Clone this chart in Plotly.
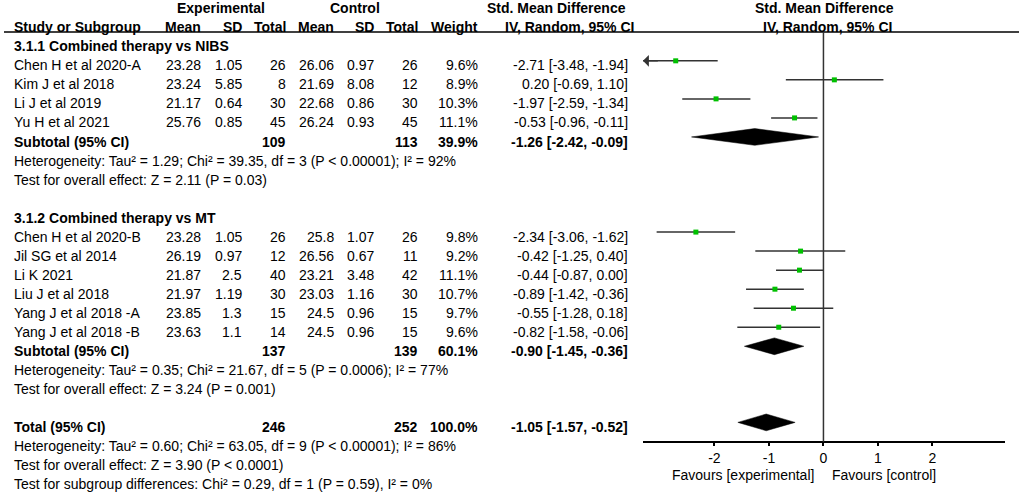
import plotly.graph_objects as go

# Study level data, subgroup 3.1.1 Combined therapy vs NIBS
studies_1 = ["Chen H et al 2020-A", "Kim J et al 2018", "Li J et al 2019", "Yu H et al 2021"]
exp_mean_1 = [23.28, 23.24, 21.17, 25.76]
exp_sd_1 = [1.05, 5.85, 0.64, 0.85]
exp_n_1 = [26, 8, 30, 45]
ctl_mean_1 = [26.06, 21.69, 22.68, 26.24]
ctl_sd_1 = [0.97, 8.08, 0.86, 0.93]
ctl_n_1 = [26, 12, 30, 45]
weight_1 = [9.6, 8.9, 10.3, 11.1]
smd_1 = [-2.71, 0.20, -1.97, -0.53]
lo_1 = [-3.48, -0.69, -2.59, -0.96]
hi_1 = [-1.94, 1.10, -1.34, -0.11]

# Subgroup 3.1.2 Combined therapy vs MT
studies_2 = ["Chen H et al 2020-B", "Jil SG et al 2014", "Li K 2021", "Liu J et al 2018",
             "Yang J et al 2018 -A", "Yang J et al 2018 -B"]
exp_mean_2 = [23.28, 26.19, 21.87, 21.97, 23.85, 23.63]
exp_sd_2 = [1.05, 0.97, 2.5, 1.19, 1.3, 1.1]
exp_n_2 = [26, 12, 40, 30, 15, 14]
ctl_mean_2 = [25.8, 26.56, 23.21, 23.03, 24.5, 24.5]
ctl_sd_2 = [1.07, 0.67, 3.48, 1.16, 0.96, 0.96]
ctl_n_2 = [26, 11, 42, 30, 15, 15]
weight_2 = [9.8, 9.2, 11.1, 10.7, 9.7, 9.6]
smd_2 = [-2.34, -0.42, -0.44, -0.89, -0.55, -0.82]
lo_2 = [-3.06, -1.25, -0.87, -1.42, -1.28, -1.58]
hi_2 = [-1.62, 0.40, 0.00, -0.36, 0.18, -0.06]

# Pooled estimates: subtotal 1, subtotal 2, total
pooled_labels = ["Subtotal (95% CI)", "Subtotal (95% CI)", "Total (95% CI)"]
pooled_exp_n = [109, 137, 246]
pooled_ctl_n = [113, 139, 252]
pooled_weight = [39.9, 60.1, 100.0]
pooled_smd = [-1.26, -0.90, -1.05]
pooled_lo = [-2.42, -1.45, -1.57]
pooled_hi = [-0.09, -0.36, -0.52]

group_titles = ["3.1.1 Combined therapy vs NIBS", "3.1.2 Combined therapy vs MT"]
het_text = [
    "Heterogeneity: Tau² = 1.29; Chi² = 39.35, df = 3 (P &lt; 0.00001); I² = 92%",
    "Heterogeneity: Tau² = 0.35; Chi² = 21.67, df = 5 (P = 0.0006); I² = 77%",
    "Heterogeneity: Tau² = 0.60; Chi² = 63.05, df = 9 (P &lt; 0.00001); I² = 86%",
]
effect_text = [
    "Test for overall effect: Z = 2.11 (P = 0.03)",
    "Test for overall effect: Z = 3.24 (P = 0.001)",
    "Test for overall effect: Z = 3.90 (P &lt; 0.0001)",
]
subgroup_text = "Test for subgroup differences: Chi² = 0.29, df = 1 (P = 0.59), I² = 0%"

x_ticks = [-2, -1, 0, 1, 2]
x_min, x_max = -3.31, 3.33

W, H = 1021, 492
FONT = "Liberation Sans, Arial, sans-serif"
FSIZE = 14
MARK_SHIFT = 0.24   # marks sit slightly above the text centre
DIAMOND_H = 0.44

# column right edges (pixels)
col_x = [202, 243, 287, 335, 375, 419, 479, 629]
LEFT = 13


def px(x):
    return x / W


annotations = []


def add_text(x, row, text, anchor="right", bold=False):
    if bold:
        text = "<b>" + text + "</b>"
    annotations.append(dict(x=px(x), y=row, xref="paper", yref="y", text=text,
                            showarrow=False, xanchor=anchor, yanchor="middle", borderpad=0,
                            font=dict(family=FONT, size=FSIZE, color="black")))


def ci_text(e, l, h):
    return "%.2f [%.2f, %.2f]" % (e, l, h)


# Headers
add_text(221, 0, "Experimental", "center", True)
add_text(355, 0, "Control", "center", True)
add_text(556, 0, "Std. Mean Difference", "center", True)
add_text(824, 0, "Std. Mean Difference", "center", True)
add_text(LEFT, 1, "Study or Subgroup", "left", True)
for x, t in zip(col_x[:7], ["Mean", "SD", "Total", "Mean", "SD", "Total", "Weight"]):
    add_text(x, 1, t, "right", True)
add_text(569, 1, "IV, Random, 95% CI", "center", True)
add_text(827, 1, "IV, Random, 95% CI", "center", True)

groups = [
    (studies_1, exp_mean_1, exp_sd_1, exp_n_1, ctl_mean_1, ctl_sd_1, ctl_n_1, weight_1, smd_1, lo_1, hi_1),
    (studies_2, exp_mean_2, exp_sd_2, exp_n_2, ctl_mean_2, ctl_sd_2, ctl_n_2, weight_2, smd_2, lo_2, hi_2),
]

study_rows, study_smd, study_lo, study_hi = [], [], [], []
pooled_rows = []
row = 2
for g, grp in enumerate(groups):
    add_text(LEFT, row, group_titles[g], "left", True)
    row += 1
    names, em, es, en, cm, cs, cn, wt, smd, lo, hi = grp
    for i in range(len(names)):
        add_text(LEFT, row, names[i], "left")
        vals = [str(em[i]), str(es[i]), str(en[i]), str(cm[i]), str(cs[i]), str(cn[i]),
                "%.1f%%" % wt[i], ci_text(smd[i], lo[i], hi[i])]
        for x, v in zip(col_x, vals):
            add_text(x, row, v)
        study_rows.append(row)
        study_smd.append(smd[i])
        study_lo.append(lo[i])
        study_hi.append(hi[i])
        row += 1
    pooled_rows.append(row)
    row += 1
    add_text(LEFT, row, het_text[g], "left")
    row += 1
    add_text(LEFT, row, effect_text[g], "left")
    row += 2

# Total block
pooled_rows.append(row)
row += 1
add_text(LEFT, row, het_text[2], "left")
add_text(LEFT, row + 1, effect_text[2], "left")
add_text(LEFT, row + 2, subgroup_text, "left")

for k, r in enumerate(pooled_rows):
    add_text(LEFT, r, pooled_labels[k], "left", True)
    add_text(col_x[2], r, str(pooled_exp_n[k]), bold=True)
    add_text(col_x[5], r, str(pooled_ctl_n[k]), bold=True)
    add_text(col_x[6], r, "%.1f%%" % pooled_weight[k], bold=True)
    add_text(col_x[7], r, ci_text(pooled_smd[k], pooled_lo[k], pooled_hi[k]), bold=True)

fig = go.Figure()

# Confidence interval lines
line_x, line_y = [], []
for r, l, h in zip(study_rows, study_lo, study_hi):
    line_x += [max(l, x_min), min(h, x_max), None]
    line_y += [r - MARK_SHIFT, r - MARK_SHIFT, None]
    if l < x_min:
        # arrow for CI running off the scale
        annotations.append(dict(x=x_min, y=r - MARK_SHIFT, xref="x", yref="y",
                                ax=x_min + 0.3, ay=r - MARK_SHIFT, axref="x", ayref="y",
                                showarrow=True, arrowhead=1, arrowsize=1.3, arrowwidth=1.5,
                                arrowcolor="#333333", text=""))
fig.add_trace(go.Scatter(x=line_x, y=line_y, mode="lines",
                         line=dict(color="#333333", width=1.5), hoverinfo="skip"))

# Study point estimates
fig.add_trace(go.Scatter(x=study_smd, y=[r - MARK_SHIFT for r in study_rows], mode="markers",
                         marker=dict(symbol="square", size=5, color="#00c000", line=dict(width=0))))

# Pooled diamonds
for k, r in enumerate(pooled_rows):
    yc = r - MARK_SHIFT
    fig.add_trace(go.Scatter(
        x=[pooled_lo[k], pooled_smd[k], pooled_hi[k], pooled_smd[k], pooled_lo[k]],
        y=[yc, yc - DIAMOND_H, yc, yc + DIAMOND_H, yc],
        mode="lines", fill="toself", fillcolor="black", line=dict(color="black", width=0.5),
        hoverinfo="skip"))

# row units -> pixels: y_px = 8.3 + 19.03 * row
pitch, top = 19.03, 8.3
header_row = (32 - top) / pitch
axis_row = (441.7 - top) / pitch

shapes = [
    dict(type="line", xref="paper", yref="y", x0=px(4), x1=px(1019), y0=header_row, y1=header_row,
         line=dict(color="black", width=1.5)),
    dict(type="line", xref="x", yref="y", x0=0, x1=0, y0=header_row, y1=axis_row,
         line=dict(color="#333333", width=1.5)),
]

fav_row = (475 - top) / pitch
add_text(815, fav_row, "Favours [experimental]", "right")
add_text(831, fav_row, "Favours [control]", "left")

fig.update_layout(
    width=W, height=H,
    margin=dict(l=0, r=0, t=0, b=0),
    paper_bgcolor="white", plot_bgcolor="white",
    showlegend=False,
    font=dict(family=FONT, size=FSIZE, color="black"),
    xaxis=dict(domain=[643 / W, 1005 / W], range=[x_min, x_max], anchor="free",
               position=1 - 441.7 / H, showline=True, linecolor="black", linewidth=1.5,
               ticks="outside", ticklen=4, tickwidth=1.5, tickcolor="black",
               tickvals=x_ticks, ticktext=[str(t) for t in x_ticks],
               showgrid=False, zeroline=False, fixedrange=True, automargin=False,
               tickfont=dict(family=FONT, size=FSIZE, color="black")),
    yaxis=dict(domain=[0, 1], range=[(H - top) / pitch, -top / pitch], visible=False,
               showgrid=False, zeroline=False, fixedrange=True, automargin=False),
    annotations=annotations,
    shapes=shapes,
)

# page body has a default 8px margin; drop it so the figure fills the window
fig.write_html("out.html", config={"displayModeBar": False},
               post_script="document.body.style.margin='0';")
